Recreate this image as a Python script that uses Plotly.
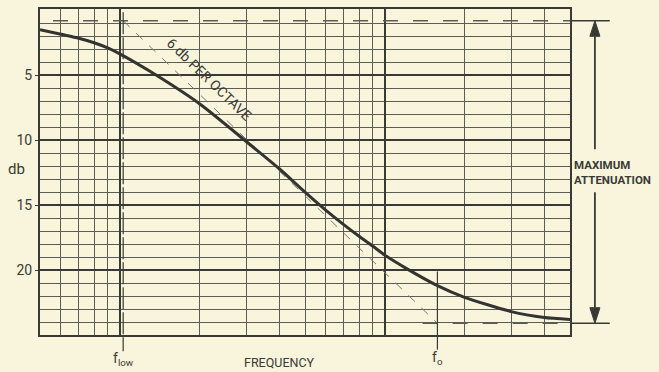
import math
import plotly.graph_objects as go

# ---- data ----
freq = [50, 60, 70, 80, 90, 100, 130, 200, 300, 400, 500, 600, 700, 800, 900,
        1000, 1200, 1580, 2000, 3000, 4000, 5000]
atten_db = [1.5, 1.85, 2.15, 2.5, 2.9, 3.35, 4.7, 7.2, 10.1, 12.2, 14.0, 15.4,
            16.5, 17.4, 18.15, 18.85, 19.85, 21.2, 22.1, 23.2, 23.65, 23.8]

F_LOW = 103
F_O = 1580
MIN_ATTEN = 0.8
MAX_ATTEN = 24.1
asym_freq = [F_LOW, F_O]
asym_db = [MIN_ATTEN, MAX_ATTEN]

x_major = [100, 1000]
x_minor = [50, 60, 70, 80, 90, 200, 300, 400, 500, 600, 700, 800, 900, 2000, 3000, 4000, 5000]
y_major = [5, 10, 15, 20]
y_major_text = ["5", "10", "15", "20"]
y_minor = [v for v in range(1, 25) if v % 5 != 0]

X_RANGE = [math.log10(50), math.log10(5000)]


def xpaper(f):
    return (math.log10(f) - X_RANGE[0]) / (X_RANGE[1] - X_RANGE[0])


BG = "#f8f5dc"
INK = "#3a3a34"
GRID = "#5c5c54"
FONT = "Roboto"

fig = go.Figure()

# asymptote (6 db per octave)
fig.add_trace(go.Scatter(x=asym_freq, y=asym_db, mode="lines",
                         line=dict(color="#77776e", width=1, dash="dash"),
                         hoverinfo="skip", showlegend=False))
# response curve
fig.add_trace(go.Scatter(x=freq, y=atten_db, mode="lines",
                         line=dict(color="#333330", width=3, shape="spline", smoothing=0.6),
                         showlegend=False))

fig.update_layout(
    width=659, height=372,
    margin=dict(l=40, r=89, t=7, b=37),
    paper_bgcolor=BG, plot_bgcolor=BG,
    font=dict(family=FONT, color=INK),
    xaxis=dict(type="log", range=X_RANGE,
               tickvals=x_major, showticklabels=False, ticks="",
               showgrid=True, gridcolor=INK, gridwidth=2,
               minor=dict(tickvals=x_minor, showgrid=True, gridcolor=GRID, gridwidth=1, ticks=""),
               showline=True, linecolor=INK, linewidth=2, mirror=True, zeroline=False),
    yaxis=dict(range=[25, -0.1],
               tickvals=y_major, ticktext=y_major_text, ticks="outside", ticklen=3,
               tickcolor=INK, tickfont=dict(size=14, color=INK, family=FONT),
               showgrid=True, gridcolor=INK, gridwidth=2,
               minor=dict(tickvals=y_minor, showgrid=True, gridcolor=GRID, gridwidth=1, ticks=""),
               showline=True, linecolor=INK, linewidth=2, mirror=True, zeroline=False),
)

AX = 1.047      # paper x of the max-attenuation arrow
HW = 0.0095     # arrowhead half width (paper)
HL = 1.2        # arrowhead length (db)

shapes = []
# top dashed level line and its extension to the arrow
shapes.append(dict(type="line", xref="x", yref="y", x0=56, x1=5000, y0=MIN_ATTEN, y1=MIN_ATTEN,
                   line=dict(color=GRID, width=1.5, dash="longdash")))
shapes.append(dict(type="line", xref="paper", yref="y", x0=1.0, x1=1.075, y0=MIN_ATTEN, y1=MIN_ATTEN,
                   line=dict(color=INK, width=1.5)))
# bottom dashed level line and extension
shapes.append(dict(type="line", xref="x", yref="y", x0=1390, x1=5000, y0=MAX_ATTEN, y1=MAX_ATTEN,
                   line=dict(color=GRID, width=1.5, dash="longdash")))
shapes.append(dict(type="line", xref="paper", yref="y", x0=1.0, x1=1.075, y0=MAX_ATTEN, y1=MAX_ATTEN,
                   line=dict(color=INK, width=1.5)))
# arrow shafts
shapes.append(dict(type="line", xref="paper", yref="y", x0=AX, x1=AX, y0=MIN_ATTEN + HL, y1=10.7,
                   line=dict(color=INK, width=1.8)))
shapes.append(dict(type="line", xref="paper", yref="y", x0=AX, x1=AX, y0=14.0, y1=MAX_ATTEN - HL,
                   line=dict(color=INK, width=1.8)))
# arrowheads
shapes.append(dict(type="path", xref="paper", yref="y",
                   path=f"M {AX},{MIN_ATTEN} L {AX - HW},{MIN_ATTEN + HL} L {AX + HW},{MIN_ATTEN + HL} Z",
                   fillcolor=INK, line=dict(color=INK, width=1)))
shapes.append(dict(type="path", xref="paper", yref="y",
                   path=f"M {AX},{MAX_ATTEN} L {AX - HW},{MAX_ATTEN - HL} L {AX + HW},{MAX_ATTEN - HL} Z",
                   fillcolor=INK, line=dict(color=INK, width=1)))
# f_low marker line
shapes.append(dict(type="line", xref="x", yref="paper", x0=F_LOW, x1=F_LOW, y0=0.99, y1=-0.05,
                   line=dict(color=INK, width=1.2, dash="22px,3px")))
# f_o marker tick
shapes.append(dict(type="line", xref="x", yref="paper", x0=F_O, x1=F_O, y0=0.195, y1=-0.045,
                   line=dict(color=INK, width=1.2)))
fig.update_layout(shapes=shapes)

ann = []
ann.append(dict(xref="paper", yref="paper", x=1.003, y=(335 - 171) / 328, xanchor="left", yanchor="middle",
                showarrow=False, align="left",
                text="<b>MAXIMUM</b><br><b>ATTENUATION</b>",
                font=dict(size=11.5, color=INK, family=FONT)))
ann.append(dict(xref="paper", yref="paper", x=-0.045, y=(335 - 168) / 328, xanchor="center", yanchor="middle",
                showarrow=False, text="db", font=dict(size=15, color=INK, family=FONT)))
ann.append(dict(xref="paper", yref="paper", x=(279 - 40) / 530, y=-(363 - 335) / 328, xanchor="center",
                yanchor="middle", showarrow=False, text="FREQUENCY",
                font=dict(size=12.5, color=INK, family=FONT)))
ann.append(dict(xref="paper", yref="paper", x=xpaper(F_LOW), y=-(359 - 335) / 328, xanchor="center",
                yanchor="middle", showarrow=False, text="f<sub>low</sub>",
                font=dict(size=14, color=INK, family=FONT)))
ann.append(dict(xref="paper", yref="paper", x=xpaper(F_O), y=-(358 - 335) / 328, xanchor="center",
                yanchor="middle", showarrow=False, text="f<sub>o</sub>",
                font=dict(size=14, color=INK, family=FONT)))
# label along the asymptote (annotation x on a log axis is given in log10 units)
ann.append(dict(xref="x", yref="y", x=math.log10(201), y=5.8, showarrow=False, textangle=44,
                xshift=9, yshift=7,
                text="6 db PER OCTAVE", font=dict(size=14, color=INK, family=FONT)))
fig.update_layout(annotations=ann)

fig.write_html("out.html", config={"displayModeBar": False},
               post_script="document.body.style.margin='0px';document.body.style.background='" + BG + "';")
